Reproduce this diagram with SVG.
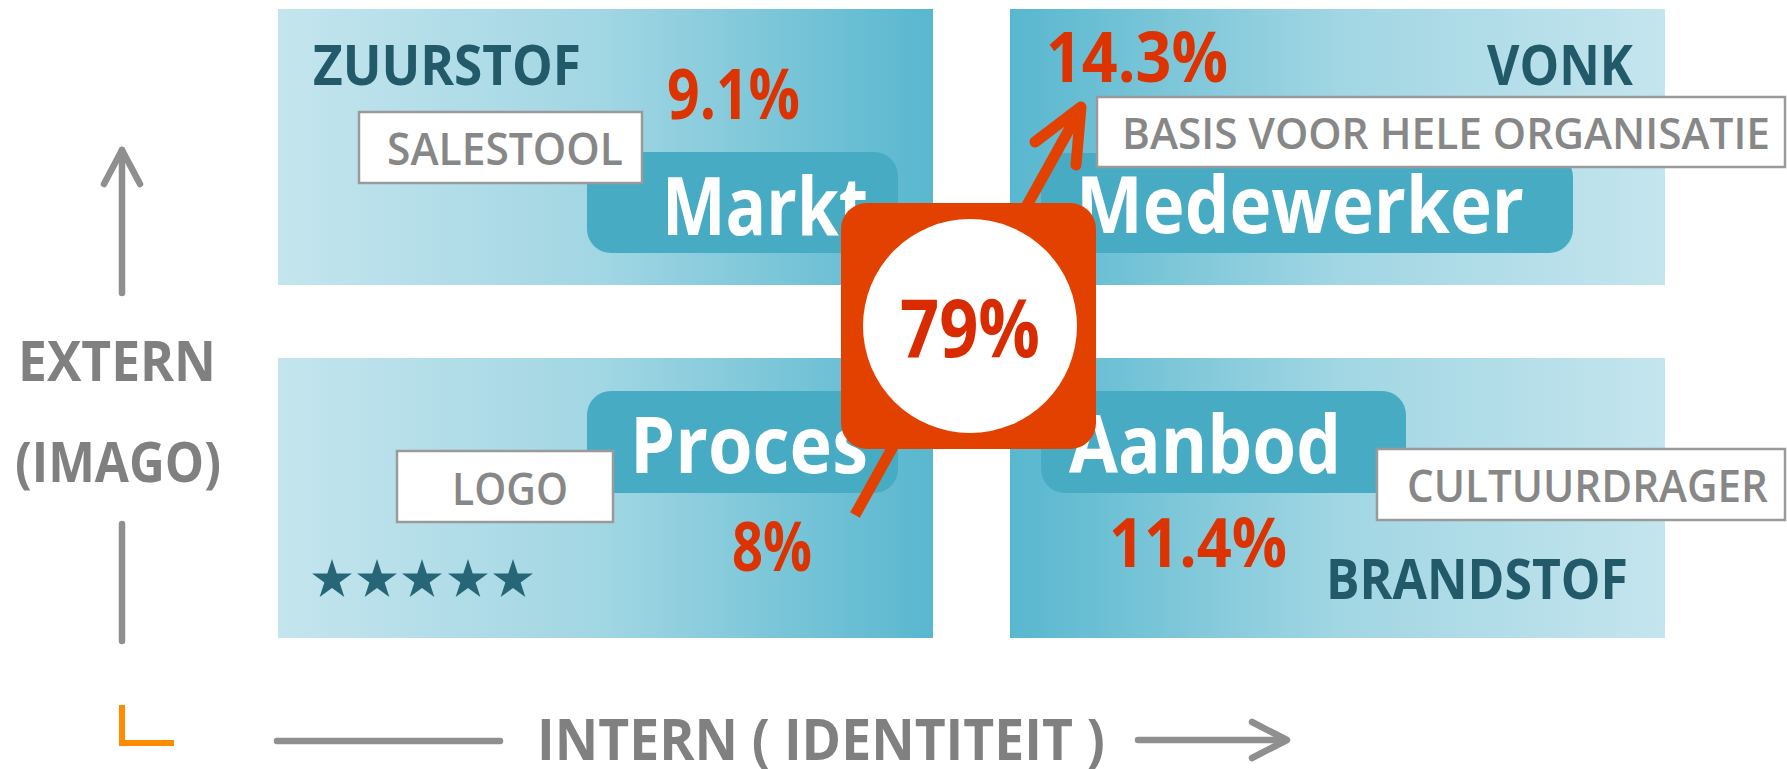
<svg xmlns="http://www.w3.org/2000/svg" xmlns:xlink="http://www.w3.org/1999/xlink" width="1787" height="769" viewBox="0 0 1787 769">
<style>
  text{font-family:"Open Sans","DejaVu Sans",sans-serif}
  .pill{fill:#47abc4}
  .big{fill:#ffffff;font-weight:700}
  .pct{fill:#dc3300;font-weight:700}
  .dark{fill:#235a6a;font-weight:700}
  .lbl{fill:#ffffff;stroke:#9a9a9a;stroke-width:2.5}
  .lbltx{fill:#878787;font-weight:600}
  .axis{fill:none;stroke:#8f8f8f;stroke-width:6.5;stroke-linecap:round;stroke-linejoin:round}
  .axtx{fill:#808080;font-weight:700}
</style>
<defs>
  <linearGradient id="gLR" x1="0" y1="0" x2="1" y2="0">
    <stop offset="0" stop-color="#c4e5ee"/>
    <stop offset="0.5" stop-color="#a1d6e3"/>
    <stop offset="1" stop-color="#58b7cf"/>
  </linearGradient>
  <linearGradient id="gRL" x1="1" y1="0" x2="0" y2="0">
    <stop offset="0" stop-color="#c4e5ee"/>
    <stop offset="0.5" stop-color="#a1d6e3"/>
    <stop offset="1" stop-color="#58b7cf"/>
  </linearGradient>
  <path id="star" d="M0,-21 L4.71,-6.49 L19.97,-6.49 L7.63,2.48 L12.34,16.99 L0,8.02 L-12.34,16.99 L-7.63,2.48 L-19.97,-6.49 L-4.71,-6.49 Z" fill="#276677"/>
</defs>

<g id="axes">
  <line class="axis" x1="122" y1="293" x2="122" y2="150"/>
  <polyline class="axis" points="104,184 122,150 140,184"/>
  <line class="axis" x1="122" y1="524" x2="122" y2="641" stroke-linecap="butt"/>
  <text class="axtx" x="18" y="381" font-size="56" textLength="198" lengthAdjust="spacingAndGlyphs">EXTERN</text>
  <text class="axtx" x="15" y="482" font-size="56" textLength="206" lengthAdjust="spacingAndGlyphs">(IMAGO)</text>
  <polyline points="122,705 122,743 174,743" fill="none" stroke="#ff8c00" stroke-width="6"/>
  <line class="axis" x1="277" y1="741" x2="500" y2="741" stroke-linecap="butt"/>
  <text x="537" y="760" font-size="57" fill="#808080" font-weight="700" textLength="568" lengthAdjust="spacingAndGlyphs">INTERN ( IDENTITEIT )</text>
  <line class="axis" x1="1138" y1="740" x2="1285" y2="740" stroke-linecap="butt"/>
  <polyline class="axis" points="1252,722 1287,740 1252,758"/>
</g>

<g id="markt">
  <rect x="278" y="9" width="655" height="276" fill="url(#gLR)"/>
  <rect class="pill" x="587" y="152" width="311" height="101" rx="24"/>
  <text class="dark" x="313" y="85" font-size="56" textLength="268" lengthAdjust="spacingAndGlyphs">ZUURSTOF</text>
  <text class="pct" x="667" y="119" font-size="70" textLength="133" lengthAdjust="spacingAndGlyphs">9.1%</text>
  <rect class="lbl" x="359" y="112" width="283" height="71"/>
  <text class="lbltx" x="387" y="165" font-size="46" textLength="236" lengthAdjust="spacingAndGlyphs">SALESTOOL</text>
  <text class="big" x="662" y="235" font-size="80" textLength="206" lengthAdjust="spacingAndGlyphs">Markt</text>
</g>

<g id="medewerker">
  <rect x="1010" y="9" width="655" height="276" fill="url(#gRL)"/>
  <rect class="pill" x="1041" y="153" width="532" height="100" rx="24"/>
  <text class="pct" x="1046" y="82" font-size="70" textLength="182" lengthAdjust="spacingAndGlyphs">14.3%</text>
  <text class="dark" x="1487" y="85" font-size="56" textLength="146" lengthAdjust="spacingAndGlyphs">VONK</text>
  <rect class="lbl" x="1097" y="97" width="688" height="70"/>
  <text class="lbltx" x="1122" y="149" font-size="44" textLength="648" lengthAdjust="spacingAndGlyphs">BASIS VOOR HELE ORGANISATIE</text>
  <text class="big" x="1076" y="233" font-size="79" textLength="448" lengthAdjust="spacingAndGlyphs">Medewerker</text>
</g>

<g id="proces">
  <rect x="278" y="358" width="655" height="280" fill="url(#gLR)"/>
  <rect class="pill" x="587" y="391" width="311" height="102" rx="24"/>
  <text class="big" x="630" y="473" font-size="79" textLength="238" lengthAdjust="spacingAndGlyphs">Proces</text>
  <rect class="lbl" x="397" y="451" width="216" height="71"/>
  <text class="lbltx" x="452" y="505" font-size="45" textLength="116" lengthAdjust="spacingAndGlyphs">LOGO</text>
  <text class="pct" x="732" y="571" font-size="68" textLength="80" lengthAdjust="spacingAndGlyphs">8%</text>
  <use xlink:href="#star" x="332" y="580"/>
  <use xlink:href="#star" x="377" y="580"/>
  <use xlink:href="#star" x="422" y="580"/>
  <use xlink:href="#star" x="468" y="580"/>
  <use xlink:href="#star" x="513" y="580"/>
</g>

<g id="aanbod">
  <rect x="1010" y="358" width="655" height="280" fill="url(#gRL)"/>
  <rect class="pill" x="1041" y="391" width="365" height="102" rx="24"/>
  <text class="big" x="1069" y="473" font-size="80" textLength="272" lengthAdjust="spacingAndGlyphs">Aanbod</text>
  <rect class="lbl" x="1377" y="449" width="408" height="71"/>
  <text class="lbltx" x="1407" y="502" font-size="45" textLength="361" lengthAdjust="spacingAndGlyphs">CULTUURDRAGER</text>
  <text class="pct" x="1109" y="567" font-size="68" textLength="178" lengthAdjust="spacingAndGlyphs">11.4%</text>
  <text class="dark" x="1326" y="599" font-size="56" textLength="302" lengthAdjust="spacingAndGlyphs">BRANDSTOF</text>
</g>

<g id="connectors">
  <line x1="855" y1="515" x2="1080" y2="110" stroke="#e34100" stroke-width="11"/>
  <polyline points="1035,142 1081,107 1076,165" fill="none" stroke="#e34100" stroke-width="11" stroke-linecap="round" stroke-linejoin="round"/>
</g>

<g id="total">
  <rect x="841" y="203" width="255" height="246" rx="26" fill="#e34100"/>
  <circle cx="970" cy="326" r="107" fill="#ffffff"/>
  <text x="900" y="357" font-size="80" font-weight="700" fill="#d92b00" textLength="140" lengthAdjust="spacingAndGlyphs">79%</text>
</g>
</svg>
